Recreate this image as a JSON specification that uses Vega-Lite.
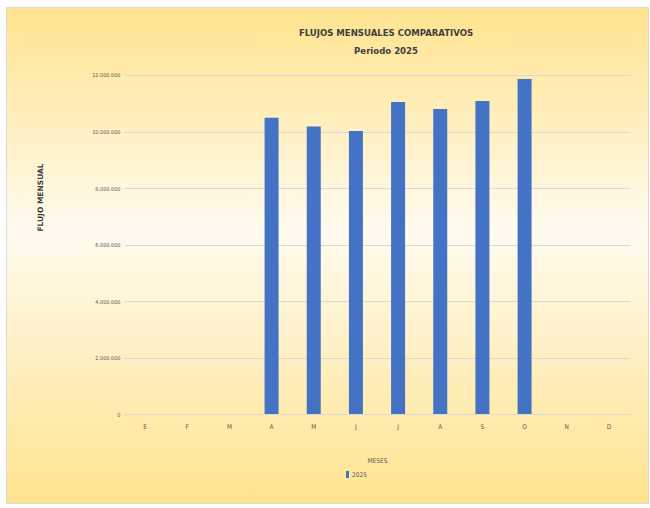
{
  "$schema": "https://vega.github.io/schema/vega-lite/v6.json",
  "width": 642,
  "height": 496,
  "autosize": {"type": "none"},
  "padding": {"left": 6, "top": 7, "right": 2, "bottom": 5},
  "background": "white",
  "title": {
    "text": ["FLUJOS MENSUALES COMPARATIVOS", "Periodo 2025"],
    "anchor": "middle",
    "frame": "group",
    "dx": 59,
    "offset": -48,
    "baseline": "top",
    "lineHeight": 18,
    "font": "DejaVu Sans Condensed, Liberation Sans, sans-serif",
    "fontSize": 9.5,
    "fontWeight": "bold",
    "color": "#404040"
  },
  "data": {
    "values": [
      {"mes": "Enero", "periodo": "2025", "flujo": null},
      {"mes": "Febrero", "periodo": "2025", "flujo": null},
      {"mes": "Marzo", "periodo": "2025", "flujo": null},
      {"mes": "Abril", "periodo": "2025", "flujo": 10490000},
      {"mes": "Mayo", "periodo": "2025", "flujo": 10180000},
      {"mes": "Junio", "periodo": "2025", "flujo": 10020000},
      {"mes": "Julio", "periodo": "2025", "flujo": 11040000},
      {"mes": "Agosto", "periodo": "2025", "flujo": 10800000},
      {"mes": "Septiembre", "periodo": "2025", "flujo": 11080000},
      {"mes": "Octubre", "periodo": "2025", "flujo": 11860000},
      {"mes": "Noviembre", "periodo": "2025", "flujo": null},
      {"mes": "Diciembre", "periodo": "2025", "flujo": null}
    ]
  },
  "mark": {"type": "bar"},
  "encoding": {
    "x": {
      "field": "mes",
      "type": "nominal",
      "sort": null,
      "scale": {
        "domain": ["Enero", "Febrero", "Marzo", "Abril", "Mayo", "Junio", "Julio", "Agosto", "Septiembre", "Octubre", "Noviembre", "Diciembre"],
        "range": [118, 624],
        "paddingInner": 0.668,
        "paddingOuter": 0.334
      },
      "axis": {
        "orient": "bottom",
        "offset": -89,
        "domain": false,
        "ticks": false,
        "grid": false,
        "labelAngle": 0,
        "labelExpr": "upper(substring(datum.label, 0, 1))",
        "labelPadding": 9,
        "labelFont": "DejaVu Sans Condensed, Liberation Sans, sans-serif",
        "labelFontSize": 6.5,
        "labelColor": "#595959",
        "title": "MESES",
        "titleFont": "DejaVu Sans Condensed, Liberation Sans, sans-serif",
        "titleFontSize": 6.5,
        "titleFontWeight": "normal",
        "titleColor": "#595959",
        "titleY": 46,
        "titleBaseline": "middle"
      }
    },
    "y": {
      "field": "flujo",
      "type": "quantitative",
      "scale": {"domain": [-3150000, 14407000], "nice": false, "zero": false},
      "axis": {
        "orient": "left",
        "offset": -118,
        "values": [0, 2000000, 4000000, 6000000, 8000000, 10000000, 12000000],
        "domain": false,
        "grid": false,
        "ticks": true,
        "tickSize": -506,
        "tickColor": "#D9D9D9",
        "tickWidth": 1,
        "labelPadding": 510,
        "labelFont": "DejaVu Sans Condensed, Liberation Sans, sans-serif",
        "labelFontSize": 5.5,
        "labelColor": "#595959",
        "labelExpr": "replace(format(datum.value, ','), /,/g, '.')",
        "title": "FLUJO MENSUAL",
        "titleFont": "DejaVu Sans",
        "titleFontSize": 7.5,
        "titleFontWeight": "bold",
        "titleColor": "#404040",
        "titleAngle": -90,
        "titleX": -84,
        "titleY": 190,
        "titleAlign": "center",
        "titleBaseline": "middle"
      }
    },
    "color": {
      "field": "periodo",
      "type": "nominal",
      "scale": {"range": ["#4472C4"]},
      "legend": {
        "orient": "none",
        "legendX": 338,
        "legendY": 464,
        "title": null,
        "padding": 0,
        "symbolType": "M-0.43,-1L0.43,-1L0.43,1L-0.43,1Z",
        "symbolSize": 49,
        "symbolStrokeWidth": 0,
        "labelOffset": 1,
        "labelFont": "DejaVu Sans Condensed, Liberation Sans, sans-serif",
        "labelFontSize": 6.5,
        "labelColor": "#595959"
      }
    }
  },
  "config": {
    "view": {
      "fill": {
        "gradient": "linear",
        "x1": 0, "y1": 0, "x2": 0, "y2": 1,
        "stops": [
          {"offset": 0, "color": "#FFE38E"},
          {"offset": 0.45, "color": "#FFFBEF"},
          {"offset": 1, "color": "#FFE38E"}
        ]
      },
      "stroke": "#D9D9D9",
      "strokeWidth": 1
    }
  }
}
